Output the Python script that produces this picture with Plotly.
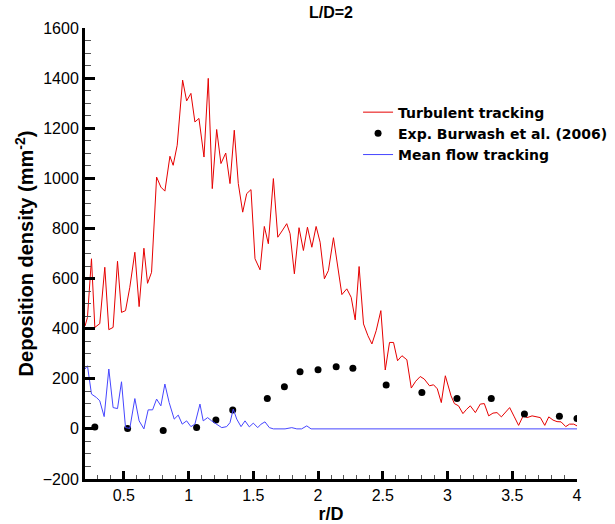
import plotly.graph_objects as go

# Turbulent tracking (red)
turb_x = [0.200, 0.219, 0.250, 0.276, 0.314, 0.353, 0.384, 0.417, 0.451, 0.482,
          0.513, 0.546, 0.585, 0.618, 0.655, 0.683, 0.714, 0.753, 0.786, 0.817,
          0.856, 0.881, 0.912, 0.954, 0.985, 1.018, 1.049, 1.080, 1.119, 1.152,
          1.183, 1.217, 1.250, 1.287, 1.320, 1.353, 1.384, 1.418, 1.449, 1.482,
          1.513, 1.552, 1.585, 1.616, 1.655, 1.689, 1.722, 1.758, 1.784, 1.817,
          1.853, 1.887, 1.918, 1.952, 1.985, 2.016, 2.049, 2.080, 2.119, 2.153,
          2.184, 2.222, 2.256, 2.287, 2.317, 2.351, 2.385, 2.416, 2.449, 2.485,
          2.519, 2.552, 2.583, 2.614, 2.648, 2.686, 2.720, 2.754, 2.789, 2.820,
          2.861, 2.892, 2.921, 2.952, 2.983, 3.027, 3.053, 3.085, 3.119, 3.147,
          3.176, 3.215, 3.253, 3.284, 3.318, 3.351, 3.382, 3.416, 3.447, 3.480,
          3.516, 3.549, 3.584, 3.615, 3.653, 3.686, 3.717, 3.751, 3.782, 3.815,
          3.846, 3.877, 3.913, 3.942, 3.975, 4.000]
turb_y = [410, 445, 679, 405, 420, 645, 396, 405, 669, 465,
          472, 565, 705, 488, 721, 581, 625, 1005, 965, 949,
          1088, 1052, 1132, 1392, 1309, 1339, 1225, 1239, 1085, 1399,
          959, 1195, 1059, 1101, 979, 1192, 979, 865, 939, 955,
          679, 635, 808, 739, 999, 765, 790, 819, 779, 619,
          803, 712, 805, 725, 808, 745, 599, 632, 763, 645,
          536, 559, 525, 435, 648, 419, 372, 339, 392, 472,
          235, 345, 345, 272, 292, 276, 163, 190, 209, 199,
          172, 176, 160, 105, 212, 132, 101, 92, 61, 78,
          92, 65, 99, 101, 52, 63, 65, 48, 65, 85,
          48, 14, 52, 45, 52, 48, 45, 14, 48, 35,
          29, 28, 9, 19, 19, 12]

# Mean flow tracking (blue)
mean_x = [0.200, 0.219, 0.250, 0.289, 0.314, 0.348, 0.384, 0.417, 0.451, 0.482,
          0.513, 0.546, 0.585, 0.618, 0.655, 0.688, 0.722, 0.753, 0.786, 0.817,
          0.850, 0.889, 0.920, 0.951, 0.985, 1.018, 1.049, 1.088, 1.113, 1.147,
          1.178, 1.212, 1.256, 1.294, 1.320, 1.345, 1.372, 1.405, 1.436, 1.469,
          1.500, 1.534, 1.560, 1.590, 1.624, 1.655, 1.745, 1.797, 1.836, 1.873,
          1.913, 1.946, 4.000]
mean_y = [239, 252, 139, 125, 112, 49, 239, 85, 81, 188,
          5, 2, 121, 32, 0, 76, 76, 119, 92, 179,
          105, 39, 55, 19, 32, 9, 19, 99, 32, 45,
          32, 19, 5, 9, 25, 79, 39, 9, 32, 8,
          23, 5, 19, 28, 5, 0, 0, 5, 0, 0,
          12, 0, 0]

# Experiment, Burwash et al. (2006)
exp_x = [0.276, 0.529, 0.804, 1.062, 1.211, 1.341, 1.608, 1.740, 1.861, 2.000,
         2.140, 2.269, 2.526, 2.802, 3.073, 3.338, 3.594, 3.864, 4.000]
exp_y = [8, 2, -6, 6, 35, 75, 121, 168, 228, 236,
         248, 242, 175, 145, 121, 121, 59, 50, 41]

FONT = "Liberation Sans, Arial, sans-serif"
LEGFONT = "DejaVu Sans, sans-serif"

fig = go.Figure()
fig.add_trace(go.Scatter(x=turb_x, y=turb_y, mode="lines", name="Turbulent tracking",
                         line=dict(color="#e60000", width=1)))
fig.add_trace(go.Scatter(x=exp_x, y=exp_y, mode="markers", name="Exp. Burwash et al. (2006)",
                         marker=dict(color="black", size=7)))
fig.add_trace(go.Scatter(x=mean_x, y=mean_y, mode="lines", name="Mean flow tracking",
                         line=dict(color="#4646ff", width=1)))

fig.update_layout(
    width=615, height=524,
    margin=dict(l=85, r=38, t=28, b=45, autoexpand=False),
    paper_bgcolor="white", plot_bgcolor="white",
    font=dict(family=FONT, color="black"),
    title=dict(text="<b>L/D=2</b>", x=0.5, xref="paper", xanchor="center",
               y=1 - 12 / 524, yref="container", yanchor="middle",
               font=dict(size=16, family=FONT)),
    legend=dict(x=0.555, y=0.848, xanchor="left", yanchor="top",
                bgcolor="rgba(0,0,0,0)", font=dict(size=14, family=LEGFONT, weight="bold"),
                tracegroupgap=0),
    showlegend=True,
)

fig.update_xaxes(
    range=[0.2, 4.0], tickmode="array", tickvals=[0.5, 1, 1.5, 2, 2.5, 3, 3.5, 4],
    ticktext=["0.5", "1", "1.5", "2", "2.5", "3", "3.5", "4"],
    ticks="inside", ticklen=8, tickwidth=2.5, tickcolor="black",
    minor=dict(ticks="inside", ticklen=4, tickwidth=1, tickcolor="#555555", dtick=0.1, tick0=0),
    showline=True, linewidth=3, linecolor="black", mirror=False,
    showgrid=False, zeroline=False, automargin=False,
    tickfont=dict(size=16, family=FONT),
    title=dict(text="<b>r/D</b>", font=dict(size=18, family=FONT), standoff=6),
)
fig.update_yaxes(
    range=[-200, 1600], tickmode="linear", tick0=-200, dtick=200,
    ticks="inside", ticklen=10, tickwidth=2.5, tickcolor="black",
    minor=dict(ticks="inside", ticklen=6, tickwidth=1, tickcolor="#555555", dtick=50, tick0=0),
    showline=True, linewidth=3, linecolor="black", mirror=False,
    showgrid=False, zeroline=False, automargin=False,
    tickfont=dict(size=16, family=FONT),
    title=dict(text="<b>Deposition density (mm<sup>-2</sup>)</b>",
               font=dict(size=20, family=FONT), standoff=4),
)

fig.write_html("out.html")
